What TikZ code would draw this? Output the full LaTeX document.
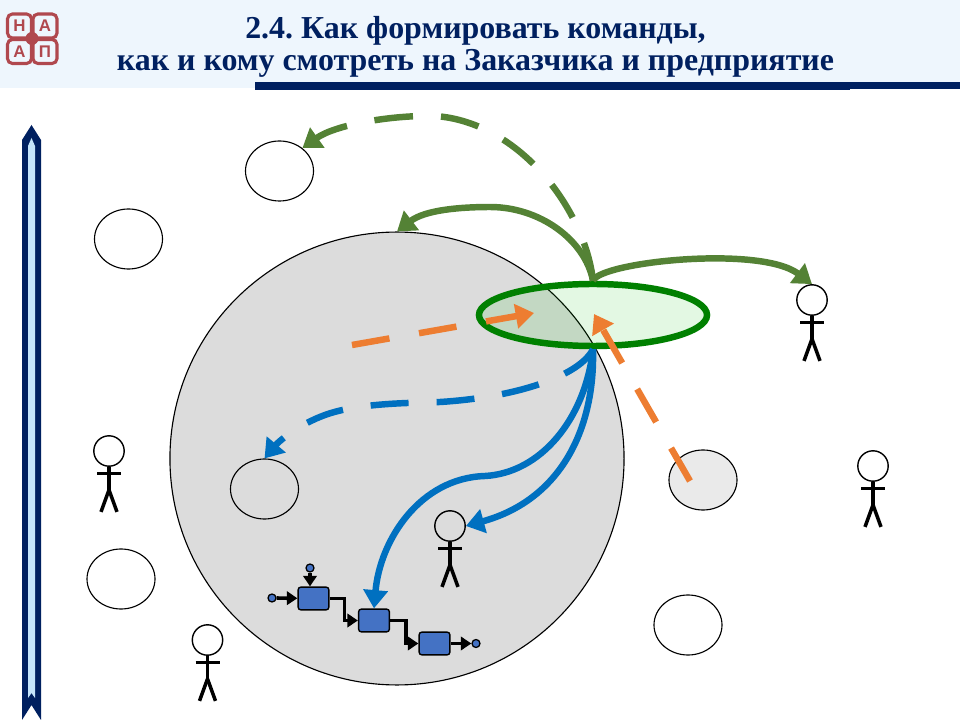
\documentclass[tikz,border=0pt]{standalone}
\usepackage{fontspec}
\setmainfont{Liberation Serif}
\newfontfamily\logofont{Liberation Sans}
\usetikzlibrary{shapes.geometric}
\usetikzlibrary{arrows.meta}

\definecolor{navy}{HTML}{002060}
\definecolor{headblue}{HTML}{EEF6FD}
\definecolor{stripblue}{HTML}{C5E5FB}
\definecolor{logored}{HTML}{B0484E}
\definecolor{areagray}{HTML}{DCDCDC}
\definecolor{leaf}{HTML}{548235}
\definecolor{teamgreen}{HTML}{008000}
\definecolor{teamfill}{HTML}{00C000}
\definecolor{flowblue}{HTML}{0070C0}
\definecolor{pushorange}{HTML}{ED7D31}
\definecolor{boxblue}{HTML}{4472C4}

\tikzstyle{client}=[draw, ellipse, line width=0.8pt, inner sep=0pt, minimum width=1.7cm, minimum height=1.5cm]
\tikzstyle{head}=[draw, circle, line width=1pt, inner sep=0pt, minimum size=0.76cm]
\tikzstyle{limb}=[line width=2.5pt]
\tikzstyle{step box}=[draw, rounded corners=2pt, fill=boxblue, line width=1pt, inner sep=0pt, minimum width=0.77cm, minimum height=0.57cm]
\tikzstyle{port}=[draw, circle, fill=boxblue, line width=0.9pt, inner sep=0pt, minimum size=0.2cm]
\tikzstyle{flow}=[line width=2.6pt, -{Triangle[length=7.5pt,width=9.5pt]}]
\tikzstyle{bigarrow}=[line width=4.6pt, -{Triangle[length=13pt,width=17pt]}]
\tikzstyle{logobox}=[draw=logored, line width=2.2pt, rounded corners=3.5pt, inner sep=0pt, minimum size=0.6cm, text=logored, font=\logofont\bfseries\fontsize{12pt}{12pt}\selectfont]
\tikzstyle{titleline}=[anchor=base, text=navy, font=\bfseries\fontsize{22.7pt}{22.7pt}\selectfont]

\begin{document}
\frenchspacing
\begin{tikzpicture}[x=0.025cm,y=-0.025cm]

	  \useasboundingbox (0,0) rectangle (960,720);

	  %----------------------------------------------------------------
	  % header
	  \fill [headblue] (0,0) rectangle (960,88);
	  \fill [navy] (255,82) rectangle (850,90);
	  \fill [navy] (850,82) rectangle (960,89);

	  \node [titleline] (title1) at (475.5,39) {2.4. Как формировать команды,};
	  \node [titleline] (title2) at (475.5,71) {как и кому смотреть на Заказчика и предприятие};

	  \node [logobox] (logoN) at (19.5,26) {Н};
	  \node [logobox] (logoA) at (45,26) {А};
	  \node [logobox] (logoB) at (19.5,51.5) {А};
	  \node [logobox] (logoP) at (45,51.5) {П};
	  \fill [logored] (32,38.5) circle (6.5);

	  %----------------------------------------------------------------
	  % strip on the left
	  \fill [navy] (31.5,125) -- (41,140) -- (41,720) -- (31.5,705) -- (22,720) -- (22,140) -- cycle;
	  \fill [stripblue] (31.5,138) -- (35,146) -- (35,698) -- (31.5,693) -- (28,698) -- (28,146) -- cycle;

	  %----------------------------------------------------------------
	  % circles
	  \node [client, fill=areagray, minimum width=11.35cm, minimum height=11.32cm] (firm) at (397,458.5) {};

	  \node [client] (client1) at (279.5,171) {};
	  \node [client] (client2) at (128.5,239) {};
	  \node [client] (client3) at (264.5,489) {};
	  \node [client] (client4) at (121,579) {};
	  \node [client, fill=areagray!60] (client5) at (703,480) {};
	  \node [client] (client6) at (688,625) {};

	  \node [ellipse, draw=teamgreen, line width=4.6pt, fill=teamfill, fill opacity=0.11, draw opacity=1, inner sep=0pt, minimum width=5.7cm, minimum height=1.55cm] (team) at (593,315) {};

	  %----------------------------------------------------------------
	  % people
	  \foreach \x/\y/\n in {812/300/1,109/451/2,873/466/3,450/526/4,207.5/640/5} {
	  \node [head] (head\n) at (\x,\y) {};
	  \draw [limb] (head\n.south) -- ++(0,23) coordinate (hip\n);
	  \draw [limb] ([yshift=-0.16cm]head\n.south) ++(-12,0) -- ++(24,0);
	  \draw [limb] (hip\n) -- ++(-8,22);
	  \draw [limb] (hip\n) -- ++(8,22);
	  }

	  %----------------------------------------------------------------
	  % process
	  \node [step box] (box1) at (313.5,598.5) {};
	  \node [step box] (box2) at (374,620.5) {};
	  \node [step box] (box3) at (434.5,643.5) {};

	  \node [port] (in1) at (272,598) {};
	  \node [port] (in2) at (310,568) {};
	  \node [port] (out1) at (476,643.5) {};

	  \draw [flow] (in1) -- (box1);
	  \draw [flow] (in2) -- (in2 |- box1.north);
	  \draw [flow] (box1.east) -- ++(15,0) |- (box2.west);
	  \draw [flow] (box2.east) -- ++(16,0) |- (box3.west);
	  \draw [flow] (box3) -- (out1);

	  %----------------------------------------------------------------
	  % arrows
	  \coordinate (pushstart1) at (352,345);
	  \coordinate (pushend1) at (534,313);
	  \coordinate (pushstart2) at (690,481);
	  \coordinate (pushend2) at (594,314);

	  \draw [bigarrow, leaf, dash pattern=on 0.97cm off 0.7cm] (team.north) .. controls (585,210) and (520,122) .. (435,116) .. controls (390,115) and (335,125) .. (client1.45);
	  \draw [bigarrow, leaf] (team.north) .. controls (585,240) and (540,207) .. (490,207) .. controls (460,207) and (425,210) .. (firm.north);
	  \draw [bigarrow, leaf] (team.north) .. controls (600,262) and (760,245) .. (head1.north);

	  \draw [bigarrow, flowblue, dash pattern=on 0.95cm off 0.7cm] (team.south) .. controls (580,375) and (520,397) .. (440,402) .. controls (400,403) and (355,404) .. (325,415) .. controls (300,424) and (280,440) .. (client3.north);
	  \draw [bigarrow, flowblue] (team.south) .. controls (585,420) and (540,473) .. (485,476) .. controls (420,478) and (380,540) .. (box2.north);
	  \draw [bigarrow, flowblue] (team.south) .. controls (595,430) and (560,500) .. (head4.east);

	  \draw [bigarrow, pushorange, dash pattern=on 0.95cm off 0.75cm] (pushstart1) -- (pushend1);
	  \draw [bigarrow, pushorange, dash pattern=on 0.95cm off 0.75cm] (pushstart2) -- (pushend2);

\end{tikzpicture}
\end{document}
